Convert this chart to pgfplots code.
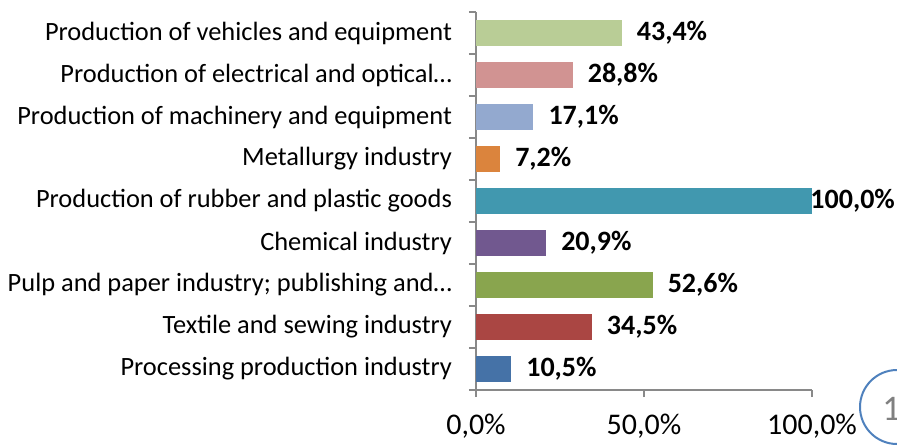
\documentclass[border=0pt]{standalone}
\usepackage{pgfplots}
\pgfplotsset{compat=1.18}
\usepackage{fontspec}
\setmainfont{Carlito}

\definecolor{cProc}{HTML}{4572A7}
\definecolor{cText}{HTML}{AA4643}
\definecolor{cPulp}{HTML}{89A54E}
\definecolor{cChem}{HTML}{71588F}
\definecolor{cRubb}{HTML}{4198AF}
\definecolor{cMeta}{HTML}{DB843D}
\definecolor{cMach}{HTML}{93A9CF}
\definecolor{cElec}{HTML}{D19392}
\definecolor{cVehi}{HTML}{B9CD96}
\definecolor{axgray}{HTML}{898989}
\definecolor{circblue}{HTML}{4F81BD}

\begin{document}
\begin{tikzpicture}
\begin{axis}[
  scale only axis,
  width=168pt, height=189pt,
  xbar, bar shift=0pt, bar width=0.64,
  xmin=0, xmax=100,
  ymin=-0.5, ymax=8.5,
  axis x line*=bottom, axis y line*=left,
  axis line style={axgray, line width=1pt},
  tick style={axgray, line width=1pt},
  tick align=outside,
  major tick length=3.5pt,
  xtick={0,50,100},
  xticklabel={\pgfmathprintnumber[fixed,fixed zerofill,precision=1,use comma,assume math mode=true]{\tick}\%},
  xticklabel style={font=\fontsize{15}{18}\selectfont, yshift=-5pt},
  ytick={-0.5,0.5,...,8.5},
  yticklabels={Processing production industry, Textile and sewing industry, {Pulp and paper industry; publishing and…}, Chemical industry, Production of rubber and plastic goods, Metallurgy industry, Production of machinery and equipment, Production of electrical and optical…, Production of vehicles and equipment, {}},
  yticklabel style={font=\fontsize{13.2}{16}\selectfont, xshift=-5pt, yshift=10.5pt},
  nodes near coords={\pgfmathprintnumber[fixed,fixed zerofill,precision=1,use comma,assume math mode=true]{\pgfplotspointmeta}\%},
  point meta=x,
  every node near coord/.append style={font=\bfseries\fontsize{14}{16}\selectfont, text=black, anchor=west, xshift=4pt},
]
\addplot[fill=cProc, draw=none] coordinates {(10.5,0)};
\addplot[fill=cText, draw=none] coordinates {(34.5,1)};
\addplot[fill=cPulp, draw=none] coordinates {(52.6,2)};
\addplot[fill=cChem, draw=none] coordinates {(20.9,3)};
\addplot[fill=cRubb, draw=none, every node near coord/.append style={xshift=-8.3pt}] coordinates {(100.0,4)};
\addplot[fill=cMeta, draw=none] coordinates {(7.2,5)};
\addplot[fill=cMach, draw=none] coordinates {(17.1,6)};
\addplot[fill=cElec, draw=none] coordinates {(28.8,7)};
\addplot[fill=cVehi, draw=none] coordinates {(43.4,8)};
\end{axis}
\begin{scope}
  \clip (-238pt,-27.5pt) rectangle (210.5pt,195pt);
  \draw[circblue, line width=1pt] (210.5pt,-8.5pt) circle (18.5pt);
  \node[text=gray, anchor=west, inner sep=0pt, font=\fontsize{18}{20}\selectfont] at (203pt,-9.5pt) {1};
\end{scope}
\pgfresetboundingbox
\useasboundingbox (-238pt,-27.5pt) rectangle (210.5pt,195pt);
\end{tikzpicture}
\end{document}
